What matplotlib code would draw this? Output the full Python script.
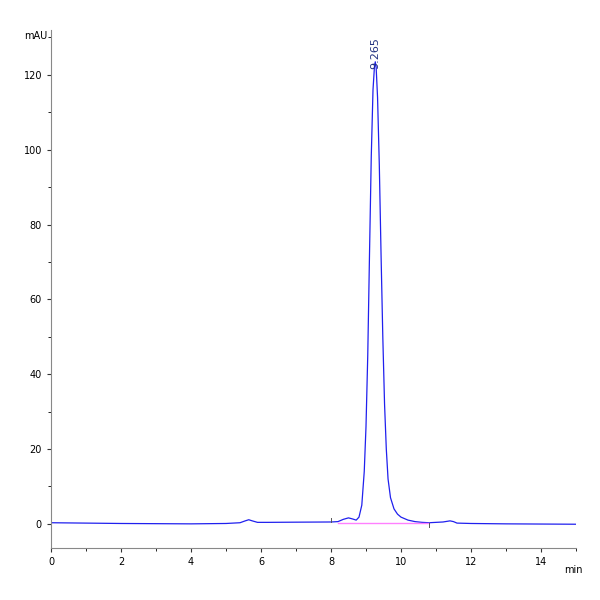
import matplotlib.pyplot as plt
import numpy as np

# trace (min, mAU)
t = [0.0, 1.0, 2.0, 3.0, 4.0, 5.0, 5.4, 5.55, 5.65, 5.75, 5.9, 6.2, 7.0, 8.0, 8.2, 8.35, 8.5, 8.62, 8.72, 8.8, 8.88,
     8.95, 9.0, 9.05, 9.1, 9.15, 9.2, 9.24, 9.265, 9.29, 9.33, 9.38, 9.43, 9.48, 9.53, 9.58, 9.63, 9.7, 9.8,
     9.9, 10.0, 10.2, 10.4, 10.6, 10.8, 11.2, 11.4, 11.5, 11.6, 12.0, 13.0, 14.0, 15.0]
mau = [0.3, 0.2, 0.1, 0.05, 0.0, 0.1, 0.3, 0.8, 1.1, 0.8, 0.4, 0.4, 0.45, 0.5, 0.6, 1.2, 1.6, 1.3, 1.0, 1.8, 5.0,
       14.0, 26.0, 45.0, 72.0, 98.0, 116.0, 122.0, 123.5, 122.0, 114.0, 96.0, 72.0, 50.0, 32.0, 20.0, 12.0, 7.0, 4.0,
       2.6, 1.8, 1.0, 0.6, 0.4, 0.3, 0.5, 0.8, 0.6, 0.2, 0.1, 0.0, -0.05, -0.1]
peak_rt = 9.265
peak_h = 123.5
base_t = [8.2, 10.8]
base_y = [0.3, 0.3]

fig = plt.figure(figsize=(6, 6), dpi=100)
ax = fig.add_axes([0.085, 0.087, 0.875, 0.863])
ax.plot(t, mau, color="#2020ee", lw=0.9)
ax.plot(base_t, base_y, color="#ff80ff", lw=1.0)
ax.plot([8.0, 8.0], [0.5, 1.5], color="#555555", lw=0.7)
ax.plot([10.8, 10.8], [-0.8, 0.3], color="#555555", lw=0.7)
ax.text(peak_rt, peak_h - 2, "9.265", rotation=90, ha="center", va="bottom",
        fontsize=8, color="#203080")

ax.set_xlim(0, 15)
ax.set_ylim(-6.4, 132)
ax.set_xticks(np.arange(0, 15, 2))
ax.set_xticks(np.arange(0, 16, 1), minor=True)
ax.set_yticks(np.arange(0, 121, 20))
ax.set_yticks(np.arange(0, 131, 10), minor=True)
for s in ["top", "right"]:
    ax.spines[s].set_visible(False)
ax.spines["left"].set_color("#888888")
ax.spines["bottom"].set_color("#888888")
ax.tick_params(labelsize=7, length=3, color="#333333")
ax.tick_params(which="minor", length=2)
fig.text(0.04, 0.935, "mAU", fontsize=7, ha="left")
fig.text(0.94, 0.045, "min", fontsize=7, ha="left")
fig.savefig("out.png", dpi=100, facecolor="white")
